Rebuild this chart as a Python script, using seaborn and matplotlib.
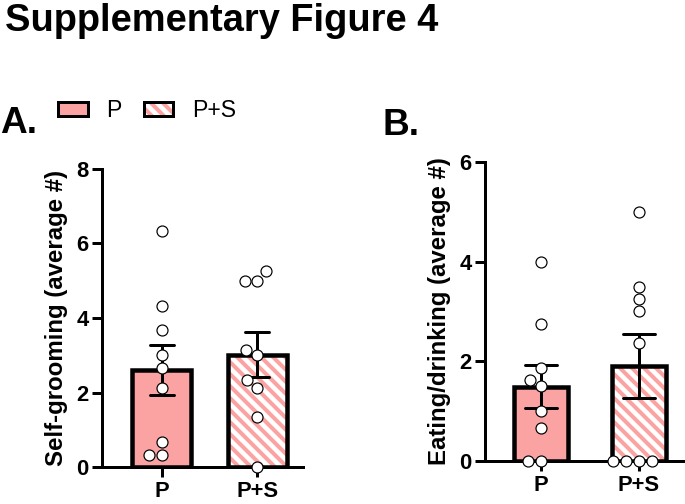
import pandas as pd
import seaborn as sns
import matplotlib.pyplot as plt
from matplotlib.patches import Patch, Rectangle

groups = ['P', 'P+S']
grooming_p = [6.33, 4.33, 3.67, 3.0, 2.67, 2.13, 0.67, 0.33, 0.33]
grooming_ps = [5.25, 5.0, 5.0, 3.13, 3.0, 2.33, 2.13, 1.33, 0.0]
eating_p = [4.0, 2.75, 1.875, 1.625, 1.5, 1.0, 0.67, 0.0, 0.0]
eating_ps = [5.0, 3.5, 3.25, 3.0, 2.375, 0.0, 0.0, 0.0, 0.0]

PINK = '#FBA3A2'


def make_df(p_vals, ps_vals):
    return pd.DataFrame({'group': ['P'] * len(p_vals) + ['P+S'] * len(ps_vals),
                         'value': p_vals + ps_vals})


def draw_panel(ax, df, ylabel, yticks, bar_width, capsize, xlim):
    sns.barplot(x='group', y='value', data=df, order=groups, ax=ax,
                color=PINK, saturation=1, edgecolor='black', linewidth=4.5,
                width=bar_width, errorbar='se', capsize=capsize,
                err_kws={'color': 'black', 'linewidth': 3})
    # hatched fill for the P+S bar
    bar = ax.patches[1]
    hatch = Rectangle(bar.get_xy(), bar.get_width(), bar.get_height(),
                      facecolor='white', edgecolor=PINK, hatch='\\\\', lw=0,
                      zorder=bar.get_zorder() - 0.1)
    ax.add_patch(hatch)
    bar.set_facecolor('none')

    sns.swarmplot(x='group', y='value', data=df, order=groups, ax=ax,
                  color='white', edgecolor='black', linewidth=1.2, size=11,
                  zorder=3, clip_on=False)

    ax.set_ylim(yticks[0], yticks[-1])
    ax.set_yticks(yticks)
    ax.set_xlim(*xlim)
    ax.set_xlabel('')
    ax.set_ylabel(ylabel, fontsize=24, fontweight='bold', labelpad=8)
    for s in ['top', 'right']:
        ax.spines[s].set_visible(False)
    for s in ['left', 'bottom']:
        ax.spines[s].set_linewidth(3)
        ax.spines[s].set_color('black')
    ax.tick_params(axis='both', length=10, width=3, labelsize=22,
                   color='black', labelcolor='black')
    ax.tick_params(axis='x', pad=4)


def main():
    sns.set_style('ticks')
    plt.rcParams['font.family'] = ['Liberation Sans', 'DejaVu Sans']
    plt.rcParams['font.weight'] = 'bold'
    plt.rcParams['text.color'] = 'black'
    plt.rcParams['axes.labelcolor'] = 'black'
    plt.rcParams['hatch.linewidth'] = 4

    fig = plt.figure(figsize=(685 / 72, 504 / 72), dpi=72)

    ax_a = fig.add_axes([0.1489, 0.0734, 0.2934, 0.5913])
    draw_panel(ax_a, make_df(grooming_p, grooming_ps), 'Self-grooming (average #)',
               [0, 2, 4, 6, 8], 0.61, 0.25, (-0.62, 1.474))

    ax_b = fig.add_axes([0.708, 0.0853, 0.292, 0.5933])
    draw_panel(ax_b, make_df(eating_p, eating_ps), 'Eating/drinking (average #)',
               [0, 2, 4, 6], 0.55, 0.33, (-0.571, 1.469))

    fig.text(0.007, 0.995, 'Supplementary Figure 4', fontsize=38,
             fontweight='bold', va='top', ha='left')
    fig.text(0.0, 0.736, 'A.', fontsize=37, fontweight='bold', va='baseline')
    fig.text(0.559, 0.732, 'B.', fontsize=37, fontweight='bold', va='baseline')

    handles = [Patch(facecolor=PINK, edgecolor='black', linewidth=3),
               (Patch(facecolor='white', edgecolor=PINK, hatch='\\\\', linewidth=0),
                Patch(facecolor='none', edgecolor='black', linewidth=3))]
    fig.legend(handles, groups, loc='center left', bbox_to_anchor=(0.0847, 0.78),
               ncol=2, frameon=False, handlelength=1.3, handleheight=0.57,
               handletextpad=0.8, columnspacing=0.95, borderpad=0,
               borderaxespad=0, prop={'size': 23, 'weight': 'normal'})

    fig.savefig('out.png', dpi=72)


if __name__ == "__main__":
    main()
